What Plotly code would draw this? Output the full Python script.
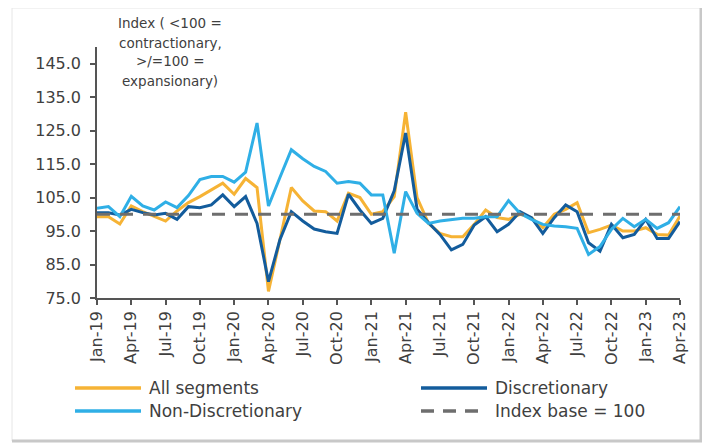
import plotly.graph_objects as go

months = ["Jan-19","Feb-19","Mar-19","Apr-19","May-19","Jun-19","Jul-19","Aug-19","Sep-19","Oct-19","Nov-19","Dec-19",
          "Jan-20","Feb-20","Mar-20","Apr-20","May-20","Jun-20","Jul-20","Aug-20","Sep-20","Oct-20","Nov-20","Dec-20",
          "Jan-21","Feb-21","Mar-21","Apr-21","May-21","Jun-21","Jul-21","Aug-21","Sep-21","Oct-21","Nov-21","Dec-21",
          "Jan-22","Feb-22","Mar-22","Apr-22","May-22","Jun-22","Jul-22","Aug-22","Sep-22","Oct-22","Nov-22","Dec-22",
          "Jan-23","Feb-23","Mar-23","Apr-23"]

all_segments = [99.3, 99.3, 97.1, 102.5, 100.8, 99.3, 98.0, 101.0, 103.5, 105.3, 107.3, 109.3,
                106.0, 110.7, 108.0, 77.0, 92.4, 108.0, 104.0, 101.0, 100.8, 98.0, 106.3, 105.0,
                100.0, 100.8, 105.3, 130.5, 105.0, 97.3, 94.3, 93.3, 93.3, 97.0, 101.3, 99.0,
                98.5, 100.0, 99.0, 96.0, 100.0, 101.5, 103.5, 94.5, 95.5, 96.8, 95.0, 95.0,
                96.0, 94.0, 93.8, 99.5]

discretionary = [100.5, 100.5, 99.8, 101.5, 100.5, 99.8, 100.3, 98.5, 102.3, 102.0, 102.8, 105.8,
                 102.3, 105.3, 97.3, 79.9, 92.4, 100.8, 98.0, 95.6, 94.8, 94.3, 106.0, 101.3,
                 97.3, 98.8, 107.0, 124.3, 101.5, 97.5, 94.0, 89.4, 91.0, 96.8, 99.3, 94.8,
                 97.0, 100.8, 99.0, 94.3, 99.0, 102.8, 100.8, 91.5, 89.0, 97.0, 93.0, 94.0,
                 98.5, 92.8, 92.8, 97.8]

non_discretionary = [101.8, 102.3, 99.3, 105.4, 102.5, 101.3, 103.7, 102.0, 105.6, 110.4, 111.3, 111.3,
                     109.6, 112.6, 127.3, 102.5, 111.0, 119.3, 116.6, 114.3, 112.8, 109.3, 109.8, 109.3,
                     105.8, 105.8, 88.4, 106.8, 100.3, 97.3, 98.0, 98.5, 98.8, 98.8, 99.3, 99.3,
                     104.1, 100.3, 98.5, 97.0, 96.5, 96.3, 95.8, 88.0, 90.4, 95.5, 98.8, 96.3,
                     98.5, 95.8, 97.5, 102.3]

index_base = [100.0] * len(months)

y_ticks = [75, 85, 95, 105, 115, 125, 135, 145]
x_ticks = months[::3]

series_names = ["All segments", "Discretionary", "Non-Discretionary", "Index base = 100"]
colors = ["#F6B335", "#135C9C", "#2FAFE6", "#6E6E6E"]
title_lines = ["Index ( <100 =", "contractionary,", ">/=100 =", "expansionary)"]

# page has an 8px body margin: figure is placed at (8, 8)
OFF = 8
W, H = 710 - OFF, 448 - OFF
L, R, T, B = 97 - OFF, 30, 47 - OFF, 150
PW, PH = W - L - R, H - T - B

def px(x):  # page pixel -> paper
    return (x - OFF - L) / PW

def py(y):  # page pixel -> paper
    return (H - B - (y - OFF)) / PH

FONT = "DejaVu Sans"
TXT = "#404040"

fig = go.Figure()
for name, vals, col in [(series_names[0], all_segments, colors[0]),
                        (series_names[1], discretionary, colors[1]),
                        (series_names[2], non_discretionary, colors[2])]:
    fig.add_trace(go.Scatter(x=months, y=vals, mode="lines", name=name,
                             line=dict(color=col, width=3), showlegend=False))
fig.add_trace(go.Scatter(x=months, y=index_base, mode="lines", name=series_names[3],
                         line=dict(color=colors[3], width=3, dash="13px,10px"), showlegend=False))

fig.update_layout(
    width=W, height=H,
    margin=dict(l=L, r=R, t=T, b=B, autoexpand=False),
    paper_bgcolor="white", plot_bgcolor="white",
    font=dict(family=FONT, color=TXT),
    showlegend=False,
)
fig.update_xaxes(type="category", categoryorder="array", categoryarray=months,
                 range=[0, len(months) - 1],
                 tickmode="array", tickvals=x_ticks, ticktext=x_ticks,
                 tickangle=-90, tickfont=dict(size=16, color=TXT),
                 showline=True, linecolor="#555555", linewidth=1.5,
                 ticks="outside", ticklen=5, tickcolor="#555555", tickwidth=1.5,
                 showgrid=False, zeroline=False)
fig.update_yaxes(range=[75, 150], tickmode="array", tickvals=y_ticks,
                 ticktext=[f"{v:.1f}" for v in y_ticks],
                 tickfont=dict(size=16, color=TXT),
                 showline=True, linecolor="#555555", linewidth=1.5,
                 ticks="outside", ticklen=5, tickcolor="#555555", tickwidth=1.5,
                 ticklabelstandoff=6,
                 showgrid=False, zeroline=False)

# axis title (four centred lines)
for line_text, yc in zip(title_lines, [23, 42.5, 61.5, 80.5]):
    fig.add_annotation(xref="paper", yref="paper", x=px(170), y=py(yc), xanchor="center", yanchor="middle",
                       text=line_text, showarrow=False, font=dict(size=13.5, color=TXT, family=FONT))

# custom legend
legend_items = [
    (series_names[0], colors[0], "solid", 75, 141, 147, 388),
    (series_names[1], colors[1], "solid", 421, 487, 493, 388),
    (series_names[2], colors[2], "solid", 75, 141, 147, 411),
    (series_names[3], colors[3], "13px,9px", 421, 487, 493, 411),
]
for name, col, dash, x0, x1, xt, yc in legend_items:
    fig.add_shape(type="line", xref="paper", yref="paper", x0=px(x0), x1=px(x1), y0=py(yc), y1=py(yc),
                  line=dict(color=col, width=3.5, dash=dash))
    fig.add_annotation(xref="paper", yref="paper", x=px(xt), y=py(yc), xanchor="left", yanchor="middle",
                       text=name, showarrow=False, font=dict(size=17, color=TXT, family=FONT))

# frame of the picture
fig.add_shape(type="rect", xref="paper", yref="paper", x0=px(12), x1=px(701), y0=py(441), y1=py(8),
              line=dict(color="#e6e6e6", width=1), layer="below")
fig.add_shape(type="line", xref="paper", yref="paper", x0=px(701), x1=px(701), y0=py(441), y1=py(8),
              line=dict(color="#c8c8c8", width=3))
fig.add_shape(type="line", xref="paper", yref="paper", x0=px(12), x1=px(702), y0=py(441), y1=py(441),
              line=dict(color="#c8c8c8", width=3))

fig.write_html("out.html")
